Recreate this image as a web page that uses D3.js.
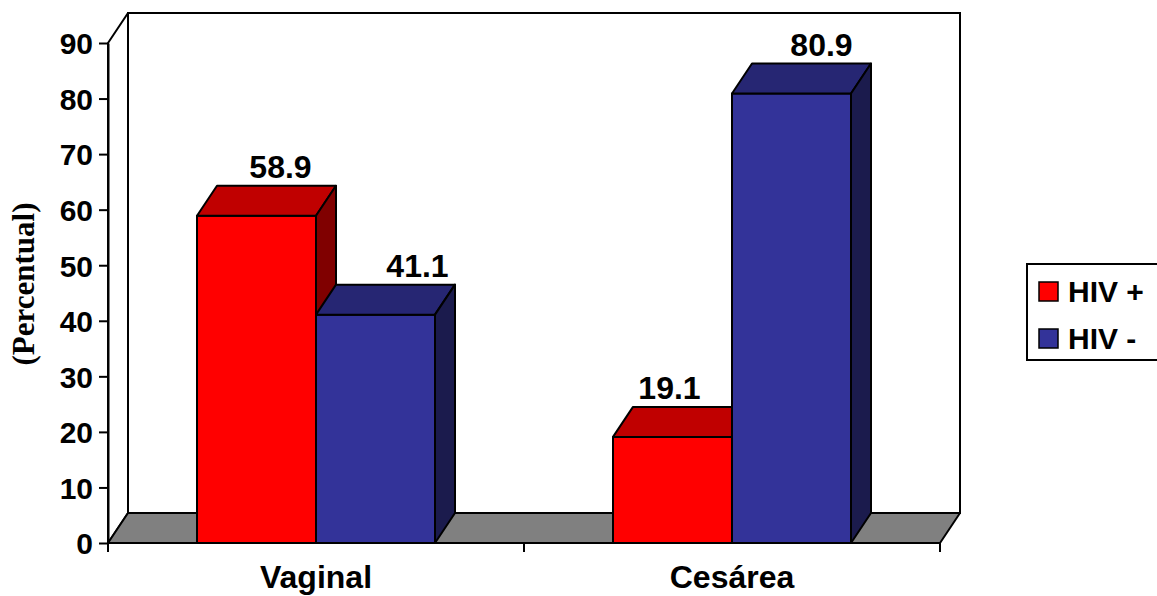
<!DOCTYPE html>
<html><head><meta charset="utf-8">
<script src="https://cdn.jsdelivr.net/npm/d3@7"></script>
<style>
body{margin:0;background:#fff;}
svg{display:block;}
text{font-family:"Liberation Sans",Arial,sans-serif;font-weight:bold;fill:#000;}
</style></head><body>
<svg id="chart" width="1157" height="596"></svg>
<script>
// ---- data ----
const categories = ["Vaginal", "Cesárea"];
const seriesNames = ["HIV +", "HIV -"];
const hivPositive = [58.9, 19.1];
const hivNegative = [41.1, 80.9];
const yTickValues = [0, 10, 20, 30, 40, 50, 60, 70, 80, 90];
const yTitle = "(Percentual)";

// ---- layout ----
const svg = d3.select("#chart");
const depth = {dx: 20, dy: -30};
const y = d3.scaleLinear().domain([0, 90]).range([543, 43]);
const x = d3.scaleBand().domain(categories).range([108, 940]);
const groupWidth = 238;
const xs = d3.scaleBand().domain(seriesNames).range([0, groupWidth]);
const faceColors = {
  "HIV +": {front: "#FF0000", top: "#C00000", side: "#800000"},
  "HIV -": {front: "#333399", top: "#262673", side: "#1B1B4D"}
};
const seriesValues = {"HIV +": hivPositive, "HIV -": hivNegative};
const labelNudge = {"HIV +": [24, -3], "HIV -": [42, 30]};

const x0 = x.range()[0], x1 = x.range()[1];
const yTop = y(90), yBase = y(0);

// back wall
svg.append("rect")
  .attr("x", x0 + depth.dx).attr("y", yTop + depth.dy)
  .attr("width", x1 - x0).attr("height", yBase - yTop)
  .attr("fill", "#fff").attr("stroke", "#000").attr("stroke-width", 2);
// left wall
svg.append("polygon")
  .attr("points", [[x0, yTop], [x0 + depth.dx, yTop + depth.dy], [x0 + depth.dx, yBase + depth.dy], [x0, yBase]].join(" "))
  .attr("fill", "#fff").attr("stroke", "#000").attr("stroke-width", 2).attr("stroke-linejoin", "round");
// floor
svg.append("polygon")
  .attr("points", [[x0, yBase], [x1, yBase], [x1 + depth.dx, yBase + depth.dy], [x0 + depth.dx, yBase + depth.dy]].join(" "))
  .attr("fill", "#808080").attr("stroke", "#000").attr("stroke-width", 2).attr("stroke-linejoin", "round");

// bars
const bars = svg.append("g");
categories.forEach((cat, ci) => {
  const gx = x(cat) + (x.bandwidth() - groupWidth) / 2;
  seriesNames.forEach(s => {
    const v = seriesValues[s][ci];
    const l = gx + xs(s), r = l + xs.bandwidth();
    const t = y(v), b = y(0);
    const c = faceColors[s];
    const g = bars.append("g").attr("stroke", "#000").attr("stroke-width", 2).attr("stroke-linejoin", "round");
    g.append("polygon").attr("fill", c.front)
      .attr("points", [[l, t], [r, t], [r, b], [l, b]].join(" "));
    g.append("polygon").attr("fill", c.top)
      .attr("points", [[l, t], [l + depth.dx, t + depth.dy], [r + depth.dx, t + depth.dy], [r, t]].join(" "));
    g.append("polygon").attr("fill", c.side)
      .attr("points", [[r, t], [r + depth.dx, t + depth.dy], [r + depth.dx, b + depth.dy], [r, b]].join(" "));
  });
});
// data labels
categories.forEach((cat, ci) => {
  const gx = x(cat) + (x.bandwidth() - groupWidth) / 2;
  seriesNames.forEach(s => {
    const v = seriesValues[s][ci];
    const cx = gx + xs(s) + xs.bandwidth() / 2 + labelNudge[s][ci];
    svg.append("text").attr("x", cx).attr("y", y(v) + depth.dy - 8)
      .attr("text-anchor", "middle").attr("font-size", 32).text(v.toFixed(1));
  });
});

// y axis
const yAxis = svg.append("g").attr("transform", `translate(${x0},0)`)
  .call(d3.axisLeft(y).tickValues(yTickValues).tickSize(9).tickPadding(6).tickSizeOuter(0));
yAxis.select(".domain").attr("stroke", "#000").attr("stroke-width", 2);
yAxis.selectAll(".tick line").attr("stroke", "#000").attr("stroke-width", 2);
yAxis.selectAll(".tick text").attr("font-size", 30).attr("font-family", "Liberation Sans, Arial, sans-serif")
  .attr("font-weight", "bold").attr("fill", "#000")
  .attr("dy", "0.36em");

// x axis
svg.append("line").attr("x1", x0).attr("x2", x1).attr("y1", yBase).attr("y2", yBase)
  .attr("stroke", "#000").attr("stroke-width", 2);
const xEdges = categories.map(c => x(c)).concat([x1]);
svg.selectAll(".xtick").data(xEdges).enter().append("line")
  .attr("x1", d => d).attr("x2", d => d).attr("y1", yBase).attr("y2", yBase + 9)
  .attr("stroke", "#000").attr("stroke-width", 2);
svg.selectAll(".xlabel").data(categories).enter().append("text")
  .attr("x", d => x(d) + x.bandwidth() / 2).attr("y", 588)
  .attr("text-anchor", "middle").attr("font-size", 32).text(d => d);

// y title
svg.append("text").attr("transform", "translate(34,284) rotate(-90)")
  .attr("text-anchor", "middle").attr("font-size", 31)
  .style("font-family", "'Liberation Serif','Times New Roman',serif")
  .text(yTitle);

// legend
const lg = svg.append("g");
lg.append("rect").attr("x", 1027).attr("y", 264).attr("width", 140).attr("height", 96)
  .attr("fill", "#fff").attr("stroke", "#000").attr("stroke-width", 2);
seriesNames.forEach((s, i) => {
  lg.append("rect").attr("x", 1039).attr("y", 282 + i * 47).attr("width", 19).attr("height", 19)
    .attr("fill", faceColors[s].front).attr("stroke", "#000").attr("stroke-width", 1.5);
  lg.append("text").attr("x", 1068).attr("y", 302 + i * 47).attr("font-size", 30).text(s);
});
</script>
</body></html>
